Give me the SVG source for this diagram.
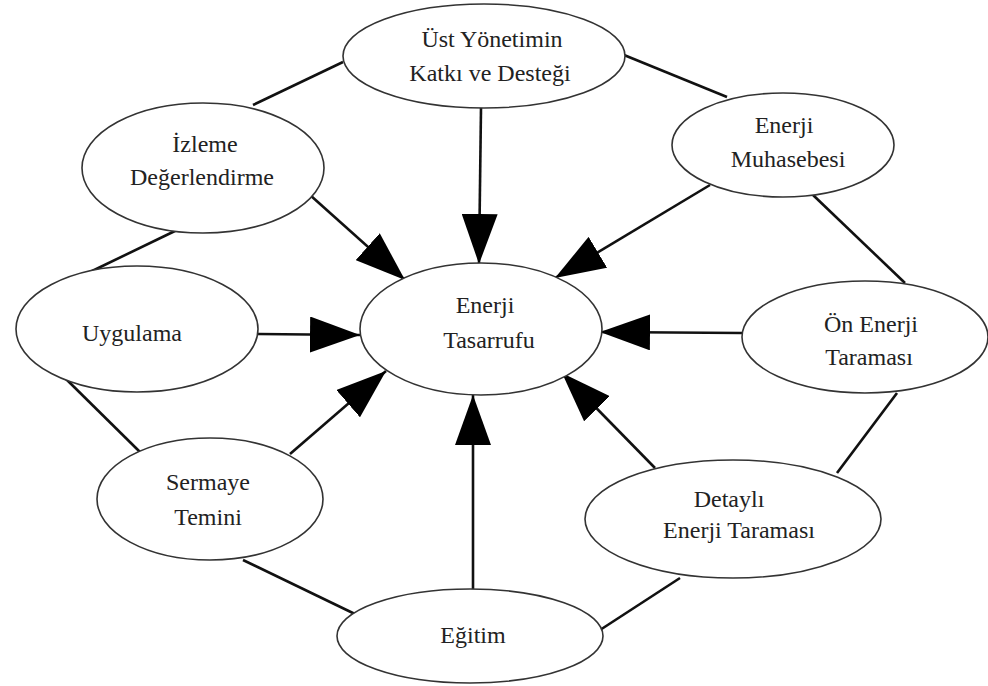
<svg xmlns="http://www.w3.org/2000/svg" width="988" height="686" viewBox="0 0 988 686">
<style>
.node ellipse{fill:#fff;stroke:#333;stroke-width:1.6}
.node text{font-family:'Liberation Serif','Times New Roman','DejaVu Serif',serif;font-size:24px;fill:#222;text-anchor:middle}
.conn line{stroke:#111;stroke-width:2.6}
.arr{marker-end:url(#ah)}
</style>
<defs>
<marker id="ah" viewBox="0 0 50 36" markerWidth="50" markerHeight="36" refX="50" refY="18" orient="auto" markerUnits="userSpaceOnUse">
<path d="M0,0 L50,18 L0,36 z" fill="#000"/>
</marker>
</defs>
<rect width="988" height="686" fill="#fff"/>
<g id="connectors" class="conn">
<line x1="343" y1="62" x2="253" y2="105"/>
<line x1="624" y1="55" x2="727" y2="97"/>
<line x1="813" y1="195" x2="905" y2="283"/>
<line x1="897" y1="393" x2="837" y2="473"/>
<line x1="680" y1="578" x2="600" y2="630"/>
<line x1="357" y1="615" x2="243" y2="560"/>
<line x1="140" y1="452" x2="65" y2="378"/>
<line x1="90" y1="272" x2="177" y2="230"/>
<line class="arr" x1="481" y1="108" x2="479" y2="264"/>
<line class="arr" x1="310" y1="195" x2="405" y2="280"/>
<line class="arr" x1="710" y1="185" x2="555" y2="278"/>
<line class="arr" x1="258" y1="334" x2="360" y2="335"/>
<line class="arr" x1="742" y1="333" x2="600" y2="332"/>
<line class="arr" x1="290" y1="454" x2="386" y2="371"/>
<line class="arr" x1="473" y1="590" x2="473" y2="395"/>
<line class="arr" x1="655" y1="468" x2="562" y2="373"/>
</g>
<g id="n-ust" class="node"><ellipse cx="484" cy="56" rx="141" ry="52"/><text x="492" y="47" font-family="Liberation Serif, serif">Üst Yönetimin</text><text x="490" y="81" font-family="Liberation Serif, serif">Katkı ve Desteği</text></g>
<g id="n-izleme" class="node"><ellipse cx="203" cy="168" rx="121" ry="65"/><text x="205" y="152">İzleme</text><text x="202" y="185">Değerlendirme</text></g>
<g id="n-tasarruf" class="node"><ellipse cx="481" cy="329" rx="121" ry="66"/><text x="485" y="313">Enerji</text><text x="489" y="348">Tasarrufu</text></g>
<g id="n-muhasebe" class="node"><ellipse cx="783" cy="145" rx="111" ry="52"/><text x="784" y="133">Enerji</text><text x="788" y="167">Muhasebesi</text></g>
<g id="n-on" class="node"><ellipse cx="865" cy="337" rx="123" ry="56"/><text x="871" y="332">Ön Enerji</text><text x="869" y="365">Taraması</text></g>
<g id="n-detayli" class="node"><ellipse cx="733" cy="519" rx="148" ry="59"/><text x="729" y="507">Detaylı</text><text x="739" y="538">Enerji Taraması</text></g>
<g id="n-uygulama" class="node"><ellipse cx="137" cy="329" rx="121" ry="63"/><text x="132" y="341">Uygulama</text></g>
<g id="n-sermaye" class="node"><ellipse cx="210" cy="499" rx="113" ry="61"/><text x="208" y="490">Sermaye</text><text x="208" y="525">Temini</text></g>
<g id="n-egitim" class="node"><ellipse cx="470" cy="636" rx="133" ry="47"/><text x="473" y="643">Eğitim</text></g>
</svg>
